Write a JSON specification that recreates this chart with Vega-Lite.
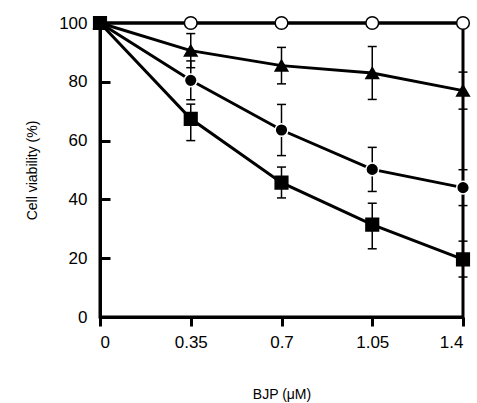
{
  "$schema": "https://vega.github.io/schema/vega-lite/v6.json",
  "autosize": {"type": "none"},
  "width": 363,
  "height": 294,
  "padding": {"left": 100, "top": 23, "right": 14, "bottom": 86},
  "background": "white",
  "config": {
    "view": {"stroke": "black", "strokeWidth": 3},
    "font": "Liberation Sans",
    "axis": {
      "grid": false, "ticks": true,
      "domainColor": "black", "domainWidth": 3,
      "tickColor": "black", "tickWidth": 3,
      "labelFontSize": 17, "labelColor": "black",
      "titleFontSize": 14, "titleFontWeight": "normal", "titleColor": "black"
    },
    "axisX": {"tickSize": 9, "labelPadding": 8, "titlePadding": 37},
    "axisY": {"tickSize": -10, "labelPadding": 23, "titlePadding": 19}
  },
  "data": {
    "values": [
      {"series": "control", "x": 0, "y": 100},
      {"series": "control", "x": 0.35, "y": 100},
      {"series": "control", "x": 0.7, "y": 100},
      {"series": "control", "x": 1.05, "y": 100},
      {"series": "control", "x": 1.4, "y": 100},
      {"series": "triangle", "x": 0, "y": 100},
      {"series": "triangle", "x": 0.35, "y": 90.6, "lo": 84.8, "hi": 96.4},
      {"series": "triangle", "x": 0.7, "y": 85.5, "lo": 79.3, "hi": 91.7},
      {"series": "triangle", "x": 1.05, "y": 83.0, "lo": 74.0, "hi": 92.0},
      {"series": "triangle", "x": 1.4, "y": 77.0, "lo": 70.7, "hi": 83.3},
      {"series": "circle", "x": 0, "y": 100},
      {"series": "circle", "x": 0.35, "y": 80.5, "lo": 73.9, "hi": 87.1},
      {"series": "circle", "x": 0.7, "y": 63.6, "lo": 54.9, "hi": 72.3},
      {"series": "circle", "x": 1.05, "y": 50.2, "lo": 42.7, "hi": 57.7},
      {"series": "circle", "x": 1.4, "y": 44.0, "lo": 37.9, "hi": 50.1},
      {"series": "square", "x": 0, "y": 100},
      {"series": "square", "x": 0.35, "y": 67.4, "lo": 60.0, "hi": 72.4},
      {"series": "square", "x": 0.7, "y": 45.7, "lo": 40.5, "hi": 51.0},
      {"series": "square", "x": 1.05, "y": 31.4, "lo": 23.2, "hi": 38.7},
      {"series": "square", "x": 1.4, "y": 19.6, "lo": 13.6, "hi": 25.8}
    ]
  },
  "encoding": {
    "x": {
      "field": "x", "type": "quantitative",
      "scale": {"domain": [0, 1.4], "nice": false, "zero": false},
      "axis": {
        "values": [0, 0.35, 0.7, 1.05, 1.4], "labelExpr": "'' + datum.value",
        "title": "BJP (μM)"
      }
    }
  },
  "layer": [
    {
      "mark": {"type": "line", "color": "black", "strokeWidth": 3},
      "encoding": {
        "y": {
          "field": "y", "type": "quantitative",
          "scale": {"domain": [0, 100], "nice": false},
          "axis": {"values": [0, 20, 40, 60, 80, 100], "title": "Cell viability (%)"}
        },
        "detail": {"field": "series"}
      }
    },
    {
      "transform": [{"filter": "isValid(datum.lo)"}],
      "mark": {"type": "rule", "color": "black", "strokeWidth": 1.5},
      "encoding": {
        "y": {"field": "lo", "type": "quantitative"},
        "y2": {"field": "hi"}
      }
    },
    {
      "transform": [{"filter": "isValid(datum.lo)"}],
      "mark": {"type": "tick", "color": "black", "size": 9, "thickness": 1.5, "orient": "horizontal", "opacity": 1},
      "encoding": {"y": {"field": "lo", "type": "quantitative"}}
    },
    {
      "transform": [{"filter": "isValid(datum.hi)"}],
      "mark": {"type": "tick", "color": "black", "size": 9, "thickness": 1.5, "orient": "horizontal", "opacity": 1},
      "encoding": {"y": {"field": "hi", "type": "quantitative"}}
    },
    {
      "mark": {"type": "point", "size": 160, "opacity": 1, "strokeWidth": 1.5},
      "encoding": {
        "y": {"field": "y", "type": "quantitative"},
        "shape": {
          "field": "series", "type": "nominal",
          "scale": {"domain": ["square", "circle", "triangle", "control"], "range": ["square", "circle", "triangle-up", "circle"]},
          "legend": null
        },
        "fill": {
          "field": "series", "type": "nominal",
          "scale": {"domain": ["square", "circle", "triangle", "control"], "range": ["black", "black", "black", "white"]},
          "legend": null
        },
        "stroke": {
          "field": "series", "type": "nominal",
          "scale": {"domain": ["square", "circle", "triangle", "control"], "range": ["black", "white", "black", "black"]},
          "legend": null
        }
      }
    }
  ]
}
